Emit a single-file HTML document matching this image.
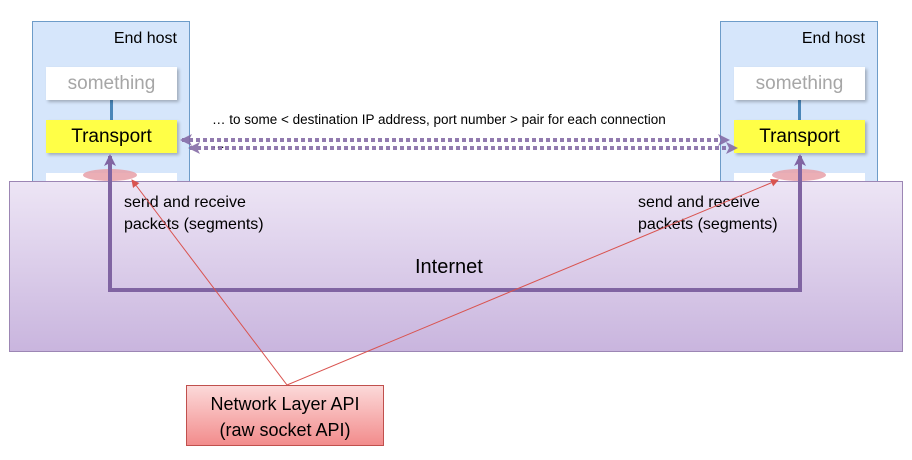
<!DOCTYPE html>
<html><head><style>
body{margin:0;width:912px;height:460px;background:#fff;font-family:"Liberation Sans",sans-serif;position:relative;overflow:hidden}
div{position:absolute;box-sizing:border-box}
.host{width:158px;height:165px;top:21px;background:#d6e6fb;border:1px solid #6d9cc9}
.ht{font-size:16px;top:8px;right:12px}
.sm{left:13px;width:131px;height:33px;top:45px;background:#fff;color:#a6a6a6;font-size:19px;text-align:center;line-height:33px;box-shadow:2px 2px 3px rgba(0,0,0,.25)}
.tr{left:13px;width:131px;height:33px;top:98px;background:#ffff47;font-size:19px;text-align:center;line-height:33px;box-shadow:2px 2px 3px rgba(0,0,0,.25)}
.wb{left:13px;width:131px;height:20px;top:151px;background:#fff}
.vl{left:77px;width:3px;top:78px;height:20px;background:#4a86b8}
.t{font-size:16px;line-height:22px}
</style></head><body>
<div class="host" style="left:32px"><div class="ht">End host</div><div class="vl"></div><div class="sm">something</div><div class="tr">Transport</div><div class="wb"></div></div>
<div class="host" style="left:720px"><div class="ht">End host</div><div class="vl"></div><div class="sm">something</div><div class="tr">Transport</div><div class="wb"></div></div>
<div style="left:9px;top:181px;width:894px;height:171px;background:linear-gradient(#ede5f5,#c9b5de);border:1px solid #9c86b4"></div>
<div class="t" style="left:124px;top:192px">send and receive<br>packets (segments)</div>
<div class="t" style="left:638px;top:192px">send and receive<br>packets (segments)</div>
<div style="left:415px;top:256px;font-size:20px">Internet</div>
<div style="left:212px;top:112px;font-size:13.5px">… to some &lt; destination IP address, port number &gt; pair for each connection</div>
<div style="left:212px;top:136px;font-size:13px">…</div>
<div style="left:186px;top:385px;width:198px;height:61px;background:linear-gradient(#fcd9d9,#f28c8c);border:1px solid #c0504d;font-size:18px;text-align:center;line-height:26px;padding-top:5px">Network Layer API<br>(raw socket API)</div>
<svg width="912" height="460" style="position:absolute;left:0;top:0">
<defs>
<marker id="p" markerWidth="12" markerHeight="12" refX="10" refY="6" orient="auto-start-reverse" markerUnits="userSpaceOnUse"><path d="M0,0L12,6L0,12L3,6z" fill="#8064a2"/></marker>
<marker id="r" markerWidth="8" markerHeight="8" refX="7" refY="4" orient="auto" markerUnits="userSpaceOnUse"><path d="M0,0L8,4L0,8z" fill="#d9534f"/></marker>
</defs>
<ellipse cx="110" cy="175" rx="27" ry="6" fill="#e8a0a8" opacity=".85"/>
<ellipse cx="799" cy="175" rx="27" ry="6" fill="#e8a0a8" opacity=".85"/>
<path d="M110,290L800,290" stroke="#8064a2" stroke-width="4" fill="none"/>
<path d="M110,292L110,156" stroke="#8064a2" stroke-width="4" marker-end="url(#p)"/>
<path d="M800,292L800,156" stroke="#8064a2" stroke-width="4" marker-end="url(#p)"/>
<path d="M182,140L728,140" stroke="#8064a2" stroke-width="4" stroke-dasharray="4,3" marker-start="url(#p)" marker-end="url(#p)" opacity=".85"/>
<path d="M190,148L736,148" stroke="#8064a2" stroke-width="4" stroke-dasharray="4,3" marker-start="url(#p)" marker-end="url(#p)" opacity=".85"/>
<path d="M287,385L132,180" stroke="#d9534f" stroke-width="1" marker-end="url(#r)"/>
<path d="M287,385L778,180" stroke="#d9534f" stroke-width="1" marker-end="url(#r)"/>
</svg>
</body></html>
